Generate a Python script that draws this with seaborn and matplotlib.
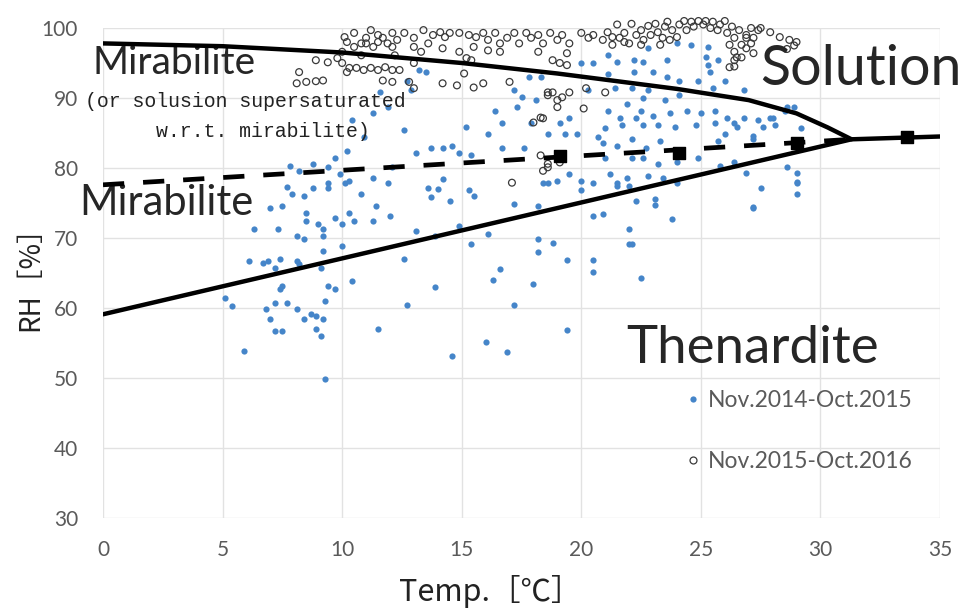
import pandas as pd
import matplotlib.pyplot as plt
import numpy as np
import seaborn as sns
from matplotlib.lines import Line2D

# Nov.2014-Oct.2015 (filled blue dots)
temp_1415 = [7.7, 7.9, 8.4, 8.8, 9.4, 10.1, 10.8, 11.4, 12.0, 7.0, 7.5, 8.5, 8.5, 9.0, 9.2, 9.7, 10.0, 10.3, 10.5, 11.3,
             7.3, 6.3, 8.1, 8.4, 9.2, 9.2, 10.0, 6.1, 6.7, 6.9, 7.4, 7.2, 8.1, 8.2, 9.1, 10.4, 7.5, 7.4, 9.4, 9.7,
             5.1, 5.4, 6.8, 7.2, 7.7, 8.1, 8.4, 8.7, 8.9, 9.3, 7.0, 9.2, 7.2, 7.5, 8.9, 9.1, 11.5, 5.9, 9.3, 12.7,
             14.6, 13.6, 14.0, 13.7, 14.5, 15.3, 15.5, 18.4, 20.0, 17.2, 18.2, 20.5, 13.1, 13.9, 14.9, 15.4, 16.1, 12.6, 18.2, 18.8,
             18.2, 19.4, 20.5, 20.5, 16.3, 18.0, 13.9, 17.2, 19.4, 16.9, 16.6, 16.0, 21.5, 22.0, 23.1, 23.1, 22.3, 20.9, 23.8, 22.0,
             22.0, 22.1, 22.5, 27.2, 29.0, 29.0, 12.7, 12.9, 12.6, 13.1, 13.7, 14.2, 14.6, 15.2, 15.4, 14.9, 16.1, 16.4, 16.7, 16.7,
             17.2, 17.3, 17.5, 17.6, 17.9, 18.1, 17.8, 18.3, 18.6, 19.1, 19.3, 19.5, 19.8, 20.0, 20.5, 20.7, 14.2, 18.6, 19.0, 19.5,
             20.0, 20.5, 13.2, 13.5, 20.3, 11.6, 11.9, 11.3, 10.4, 10.9, 9.7, 10.2, 7.8, 8.2, 8.8, 9.4, 9.9, 10.3, 9.4, 11.3,
             11.9, 12.1, 21.1, 21.5, 22.2, 22.6, 22.8, 23.6, 24.0, 24.6, 25.3, 25.2, 25.3, 25.4, 25.7, 22.2, 23.0, 23.6, 24.1, 24.9,
             25.5, 26.0, 26.8, 21.1, 21.4, 22.1, 22.8, 23.5, 24.1, 21.9, 22.6, 22.5, 21.1, 21.6, 22.3, 23.0, 23.7, 24.4, 25.0, 25.6,
             26.1, 26.8, 27.4, 27.9, 28.6, 21.0, 21.7, 22.6, 23.2, 23.9, 24.8, 25.6, 26.4, 27.6, 28.1, 20.9, 21.5, 22.1, 22.7, 23.3,
             25.7, 26.0, 27.2, 21.0, 22.1, 22.6, 23.2, 24.0, 24.9, 25.8, 26.4, 26.9, 28.6, 29.0, 21.2, 21.9, 22.8, 23.4, 24.0, 21.5,
             27.5, 28.9, 29.2, 27.2, 28.0, 28.5, 27.2, 26.5, 29.0]
rh_1415 = [77.3, 76.3, 76.0, 77.2, 77.2, 77.8, 76.3, 74.6, 73.2, 74.3, 74.6, 73.6, 72.5, 72.0, 71.3, 72.9, 72.0, 73.6, 72.5, 72.5,
           71.3, 71.3, 70.3, 69.9, 70.3, 68.1, 68.9, 66.7, 66.4, 66.7, 67.0, 65.7, 66.7, 66.3, 65.7, 63.8, 63.1, 62.7, 63.1, 62.7,
           61.4, 60.3, 59.8, 60.7, 60.7, 59.8, 58.5, 59.1, 58.8, 61.0, 58.5, 58.4, 56.7, 56.7, 57.0, 56.0, 57.0, 53.8, 49.8, 60.5,
           53.2, 77.2, 77.0, 75.9, 75.3, 76.8, 76.0, 77.8, 76.8, 74.9, 74.6, 73.2, 71.0, 70.3, 71.7, 69.2, 70.6, 67.0, 69.9, 69.3,
           68.0, 66.9, 66.9, 65.1, 64.0, 63.4, 63.0, 60.4, 56.8, 53.7, 65.6, 55.2, 77.8, 77.5, 75.6, 74.7, 75.3, 73.5, 72.7, 71.3,
           69.2, 69.2, 64.3, 74.5, 77.8, 76.3, 92.5, 91.1, 85.4, 82.1, 82.9, 82.9, 83.2, 85.8, 81.8, 82.2, 84.9, 88.2, 86.4, 82.9,
           91.1, 88.7, 90.1, 82.9, 86.5, 89.7, 93.0, 93.0, 84.9, 86.4, 84.9, 87.2, 84.9, 95.0, 95.0, 84.4, 78.5, 77.8, 78.2, 79.2,
           78.2, 77.8, 94.0, 93.7, 91.1, 90.8, 88.7, 87.8, 86.8, 84.4, 81.5, 82.5, 80.3, 79.6, 80.6, 80.1, 79.2, 78.2, 77.8, 78.6,
           77.9, 80.1, 96.1, 95.1, 95.4, 95.1, 97.1, 95.4, 97.8, 97.6, 97.3, 95.8, 94.7, 93.7, 95.4, 93.7, 93.7, 93.0, 92.5, 92.5,
           91.4, 92.5, 91.1, 93.5, 91.5, 91.4, 91.1, 89.7, 90.4, 89.2, 90.0, 88.2, 88.2, 87.2, 87.2, 87.5, 87.9, 88.2, 87.8, 88.2,
           87.1, 87.2, 86.8, 87.1, 88.7, 85.7, 86.1, 86.1, 86.1, 85.8, 86.1, 86.4, 86.5, 85.8, 86.1, 83.6, 83.2, 84.2, 82.9, 83.9,
           83.9, 84.9, 84.6, 81.5, 81.5, 81.5, 80.6, 80.8, 81.5, 80.3, 80.8, 79.3, 80.1, 79.3, 79.2, 78.6, 78.9, 78.6, 77.8, 77.5,
           77.2, 88.7, 85.7, 74.3, 87.2, 88.2, 84.2, 85.8, 78.0]

# Nov.2015-Oct.2016 (open circles)
temp_1516 = [8.9, 9.4, 8.2, 8.1, 8.5, 8.9, 9.2, 10.2, 10.5, 10.8, 11.0, 11.3, 11.5, 11.7, 11.9, 12.1, 10.0, 10.3, 10.6, 10.9,
             11.2, 11.5, 11.7, 12.1, 10.2, 11.8, 12.1, 10.1, 10.5, 11.0, 11.2, 11.5, 12.1, 12.3, 9.8, 10.0, 10.8, 12.2, 12.4, 12.6,
             13.0, 13.4, 13.8, 14.1, 14.3, 14.5, 14.9, 15.3, 15.6, 15.9, 16.1, 16.4, 16.6, 16.9, 17.2, 17.4, 17.7, 17.9, 18.2, 18.4,
             18.7, 19.0, 19.2, 19.5, 20.0, 20.3, 20.5, 13.0, 13.3, 13.6, 14.2, 14.9, 15.5, 16.1, 16.6, 15.2, 15.4, 13.0, 12.8, 13.0,
             14.2, 14.8, 15.5, 15.9, 17.0, 15.1, 19.4, 18.8, 19.1, 19.4, 18.6, 18.8, 19.2, 20.2, 19.0, 20.1, 18.3, 18.0, 18.3, 18.6,
             18.4, 17.1, 18.2, 18.6, 19.0, 18.4, 18.6, 19.1, 21.0, 19.5, 20.9, 21.1, 21.3, 21.5, 21.6, 21.8, 22.0, 22.1, 22.3, 22.5,
             22.6, 22.8, 22.9, 23.1, 23.2, 23.4, 23.5, 23.6, 23.8, 24.0, 24.1, 24.3, 24.4, 24.6, 24.7, 24.9, 25.1, 25.2, 25.4, 25.5,
             25.7, 25.8, 26.0, 26.1, 26.3, 26.4, 26.6, 26.7, 26.9, 27.1, 27.2, 27.4, 21.3, 21.8, 22.5, 23.3, 23.7, 26.2, 26.4, 26.4,
             26.7, 26.9, 27.1, 26.4, 28.7, 29.0, 28.3, 27.9, 27.5, 26.9, 27.2, 26.2, 26.5, 28.9, 28.6]
rh_1516 = [95.4, 95.1, 93.7, 92.1, 92.3, 92.4, 92.5, 98.0, 97.3, 97.8, 97.8, 97.3, 98.0, 98.6, 97.8, 97.3, 95.0, 94.3, 94.3, 94.0,
           94.3, 94.0, 92.5, 92.3, 93.7, 94.4, 94.0, 98.7, 99.3, 98.6, 99.7, 99.0, 99.3, 98.3, 95.7, 96.6, 96.1, 96.1, 94.0, 99.3,
           98.6, 99.7, 99.0, 99.4, 98.7, 99.3, 99.3, 99.0, 98.7, 99.3, 98.3, 99.3, 97.8, 98.6, 99.3, 97.8, 99.3, 98.6, 99.0, 97.8,
           99.3, 98.3, 99.0, 97.8, 99.3, 98.6, 99.0, 97.3, 96.6, 97.8, 97.1, 96.6, 97.3, 96.8, 96.6, 95.7, 95.4, 95.0, 92.3, 91.4,
           92.1, 91.8, 91.5, 92.1, 92.3, 93.5, 96.4, 95.4, 95.0, 94.7, 90.8, 90.8, 90.1, 91.4, 88.7, 88.5, 87.2, 86.5, 81.8, 80.1,
           79.6, 77.9, 96.6, 90.4, 89.7, 87.1, 80.6, 80.8, 90.8, 90.8, 98.3, 99.4, 97.6, 100.5, 98.6, 99.3, 97.8, 100.6, 99.0, 99.7,
           98.3, 100.3, 99.0, 100.6, 99.4, 98.6, 100.2, 100.9, 99.7, 98.7, 100.5, 101.0, 99.7, 100.9, 100.2, 101.0, 100.5, 101.0, 100.0, 100.9,
           99.7, 100.5, 101.0, 99.3, 100.2, 98.6, 99.7, 97.6, 99.0, 100.0, 98.6, 99.7, 98.7, 98.0, 97.6, 97.6, 98.3, 97.6, 96.6, 95.4,
           95.8, 97.1, 97.8, 94.5, 98.3, 98.0, 98.7, 99.4, 100.0, 98.6, 96.4, 94.4, 95.8, 97.5, 97.0]

# phase boundaries
upper_temp = [0, 5, 10, 15, 19, 24, 27, 29, 30.3, 31.3]
upper_rh = [97.8, 97.4, 96.5, 95.0, 93.5, 91.3, 89.7, 87.8, 85.8, 84.1]
lower_temp = [0, 31.3, 35]
lower_rh = [59.1, 84.1, 84.5]
dashed_temp = [0, 31.3]
dashed_rh = [77.6, 84.1]
square_temp = [19.1, 24.1, 29.0, 33.6]
square_rh = [81.7, 82.2, 83.6, 84.4]

df_a = pd.DataFrame({'Temp': temp_1415, 'RH': rh_1415})
df_b = pd.DataFrame({'Temp': temp_1516, 'RH': rh_1516})

sns.set_theme(style="white")
plt.rcParams['font.family'] = ['Lato', 'DejaVu Sans']

fig = plt.figure(figsize=(9.65, 6.12), dpi=100)
ax = fig.add_axes([103 / 965, 1 - 518 / 612, 837 / 965, 490 / 612])

blue = '#4585c9'
sns.scatterplot(data=df_a, x='Temp', y='RH', ax=ax, color=blue, s=20, linewidth=0, zorder=3, clip_on=False)
sns.scatterplot(data=df_b, x='Temp', y='RH', ax=ax, facecolor='none', edgecolor='#3a3a3a', s=24,
                linewidth=0.9, zorder=3, clip_on=False)

ax.plot(upper_temp, upper_rh, color='black', lw=3.2, zorder=4)
ax.plot(lower_temp, lower_rh, color='black', lw=3.2, zorder=4)
ax.plot(dashed_temp, dashed_rh, color='black', lw=3.4, dashes=(4.5, 4), zorder=4)
ax.scatter(square_temp, square_rh, marker='s', s=70, color='black', zorder=5)

ax.set_xlim(0, 35)
ax.set_ylim(30, 100)
ax.set_xticks(np.arange(0, 36, 5))
ax.set_yticks(np.arange(30, 101, 10))
ax.grid(True, color='#e2e2e2', lw=1.0)
for s in ax.spines.values():
    s.set_visible(False)
ax.tick_params(axis='both', labelsize=15, labelcolor='#5a5a5a', length=0)
ax.tick_params(axis='x', pad=16)
ax.tick_params(axis='y', pad=18)
ax.set_xlabel('')
ax.set_ylabel('')

# region labels
ax.text(-0.45, 95.0, 'Mirabilite', fontsize=28, va='center', ha='left')
ax.text(-0.75, 89.5, '(or solusion supersaturated', fontsize=14.3, family='Liberation Mono',
        va='center', ha='left', color='#222222')
ax.text(2.2, 85.2, 'w.r.t. mirabilite)', fontsize=14.3, family='Liberation Mono',
        va='center', ha='left', color='#222222')
ax.text(-1.0, 75.0, 'Mirabilite', fontsize=30, va='center', ha='left')
ax.text(27.5, 94.1, 'Solution', fontsize=40, va='center', ha='left')
ax.text(21.9, 54.2, 'Thenardite', fontsize=38, va='center', ha='left')

fam = ['Noto Sans CJK JP', 'DejaVu Sans']
fig.text(30 / 965, 1 - 272 / 612, 'RH［%］', rotation=90, fontsize=20, family=fam,
         ha='center', va='center', color='#222222')
fig.text(490 / 965, 1 - 591 / 612, 'Temp.［℃］', fontsize=22, family=fam,
         ha='center', va='center', color='#222222')

handles = [Line2D([], [], marker='o', ls='', color=blue, markersize=4.5, markeredgewidth=0),
           Line2D([], [], marker='o', ls='', markerfacecolor='none', markeredgecolor='#3a3a3a',
                  markersize=5, markeredgewidth=0.9)]
ax.legend(handles, ['Nov.2014-Oct.2015', 'Nov.2015-Oct.2016'], loc='upper left',
          bbox_to_anchor=(0.676, 0.298), frameon=False, fontsize=16.5, labelcolor='#5a5a5a',
          handlelength=0.5, handletextpad=0.4, labelspacing=1.75, borderpad=0.3)

fig.savefig('out.png', dpi=100)
